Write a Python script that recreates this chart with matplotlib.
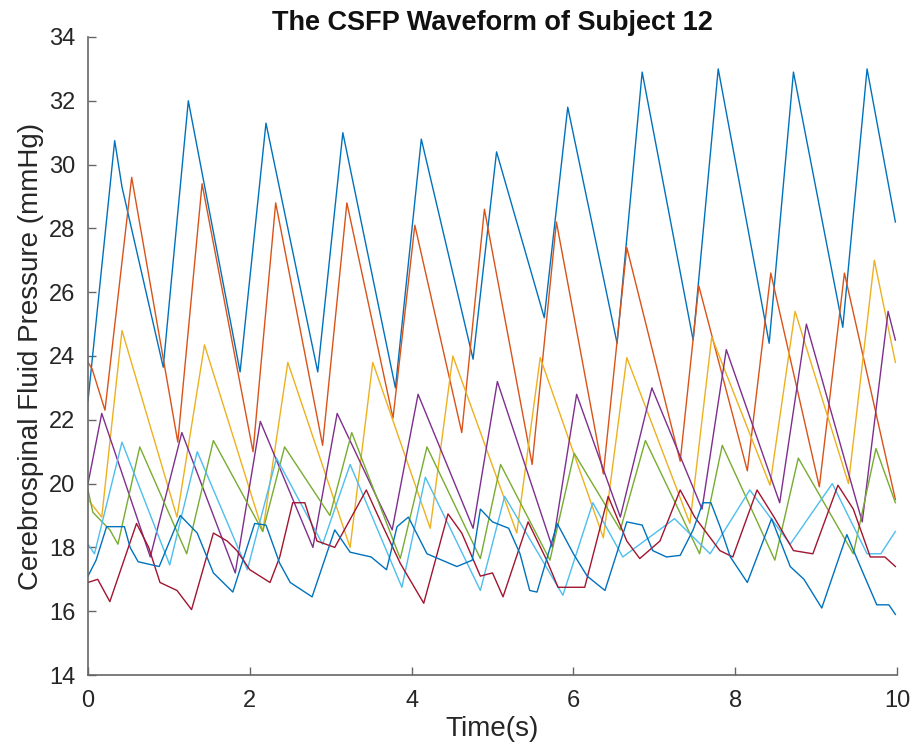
import matplotlib
matplotlib.use("Agg")
import matplotlib.pyplot as plt

plt.rcParams['font.family'] = ['Liberation Sans', 'DejaVu Sans']

title = "The CSFP Waveform of Subject 12"
xlabel = "Time(s)"
ylabel = "Cerebrospinal Fluid Pressure (mmHg)"
xticks = [0, 2, 4, 6, 8, 10]
yticks = [14, 16, 18, 20, 22, 24, 26, 28, 30, 32, 34]

colors = ['#0072BD', '#D95319', '#EDB120', '#7E2F8E', '#77AC30', '#4DBEEE', '#A2142F', '#0072BD']

# series 1 (top blue)
t1 = [0, 0.33, 0.42, 0.93, 1.24, 1.88, 2.2, 2.84, 3.15, 3.8, 4.12, 4.76, 5.05, 5.64, 5.93,
      6.54, 6.85, 7.48, 7.79, 8.42, 8.72, 9.33, 9.63, 9.98]
v1 = [22.6, 30.75, 29.3, 23.65, 32.0, 23.5, 31.3, 23.5, 31.0, 23.0, 30.8, 23.9, 30.4, 25.2, 31.8,
      24.4, 32.9, 24.5, 33.0, 24.4, 32.9, 24.9, 33.0, 28.2]
# series 2 (orange)
t2 = [0, 0.05, 0.21, 0.54, 1.11, 1.41, 2.04, 2.32, 2.9, 3.2, 3.77, 4.04, 4.62, 4.9, 5.49, 5.79,
      6.37, 6.66, 7.32, 7.55, 8.15, 8.44, 9.04, 9.35, 9.98]
v2 = [23.8, 23.6, 22.3, 29.6, 21.3, 29.4, 21.0, 28.8, 21.2, 28.8, 22.05, 28.1, 21.6, 28.6, 20.6, 28.2,
      20.3, 27.4, 20.7, 26.2, 20.4, 26.6, 19.9, 26.6, 19.5]
# series 3 (yellow)
t3 = [0, 0.17, 0.42, 1.1, 1.44, 2.16, 2.47, 3.24, 3.52, 4.23, 4.51, 5.3, 5.59, 6.37, 6.66, 7.44,
      7.71, 8.43, 8.74, 9.4, 9.72, 9.98]
v3 = [19.5, 18.95, 24.8, 18.95, 24.35, 18.5, 23.8, 18.0, 23.8, 18.6, 24.0, 18.45, 23.95, 18.3, 23.95, 18.75,
      24.6, 19.95, 25.4, 20.0, 27.0, 23.8]
# series 4 (purple)
t4 = [0, 0.17, 0.77, 1.16, 1.82, 2.13, 2.78, 3.08, 3.76, 4.08, 4.76, 5.06, 5.74, 6.04, 6.58, 6.97,
      7.59, 7.89, 8.55, 8.88, 9.57, 9.89, 9.98]
v4 = [20.0, 22.2, 17.7, 21.6, 17.2, 21.95, 18.0, 22.2, 18.55, 22.8, 18.6, 23.2, 18.0, 22.8, 18.95, 23.0,
      19.2, 24.2, 19.4, 25.0, 18.8, 25.4, 24.5]
# series 5 (green)
t5 = [0, 0.06, 0.27, 0.37, 0.64, 1.22, 1.55, 2.16, 2.43, 2.99, 3.26, 3.86, 4.19, 4.85, 5.1, 5.71,
      6.01, 6.58, 6.89, 7.56, 7.84, 8.49, 8.78, 9.46, 9.74, 9.98]
v5 = [19.8, 19.1, 18.55, 18.1, 21.15, 17.8, 21.35, 18.5, 21.15, 19.0, 21.6, 17.65, 21.15, 17.65, 20.6, 17.6,
      20.95, 18.55, 21.35, 17.8, 21.2, 17.6, 20.8, 17.8, 21.1, 19.4]
# series 6 (light blue)
t6 = [0, 0.08, 0.42, 1.01, 1.35, 1.97, 2.33, 2.9, 3.24, 3.88, 4.17, 4.85, 5.15, 5.87, 6.24, 6.61,
      7.25, 7.69, 8.18, 8.68, 9.2, 9.63, 9.8, 9.98]
v6 = [18.1, 17.8, 21.3, 17.45, 21.0, 17.3, 20.8, 18.1, 20.6, 16.75, 20.2, 16.65, 19.6, 16.5, 19.4, 17.7,
      18.9, 17.8, 19.8, 18.1, 20.0, 17.8, 17.8, 18.5]
# series 7 (dark red)
t7 = [0, 0.12, 0.27, 0.6, 0.75, 0.89, 1.1, 1.28, 1.55, 1.72, 1.84, 2.0, 2.25, 2.37, 2.53, 2.68,
      2.83, 3.05, 3.44, 3.61, 3.86, 4.15, 4.45, 4.62, 4.85, 5.0, 5.13, 5.44, 5.67, 5.81, 6.14, 6.43,
      6.66, 6.82, 7.07, 7.32, 7.5, 7.81, 7.97, 8.27, 8.48, 8.72, 8.96, 9.27, 9.46, 9.67, 9.85, 9.98]
v7 = [16.9, 17.0, 16.3, 18.75, 18.0, 16.9, 16.65, 16.05, 18.45, 18.2, 17.9, 17.3, 16.9, 17.7, 19.4, 19.4,
      18.2, 18.0, 19.8, 18.85, 17.5, 16.25, 19.05, 18.45, 17.1, 17.2, 16.45, 18.8, 17.6, 16.75, 16.75, 19.6,
      18.2, 17.65, 18.2, 19.8, 18.95, 17.9, 17.7, 19.8, 18.95, 17.9, 17.8, 19.95, 19.2, 17.7, 17.7, 17.4]
# series 8 (lower blue)
t8 = [0, 0.1, 0.23, 0.45, 0.52, 0.62, 0.88, 1.14, 1.35, 1.55, 1.79, 2.06, 2.2, 2.37, 2.5, 2.77,
      3.05, 3.24, 3.5, 3.69, 3.82, 3.96, 4.19, 4.56, 4.75, 4.85, 5.0, 5.2, 5.34, 5.46, 5.55, 5.8,
      6.0, 6.17, 6.39, 6.66, 6.85, 6.98, 7.15, 7.32, 7.48, 7.6, 7.7, 7.82, 7.94, 8.15, 8.45, 8.68,
      8.85, 9.07, 9.38, 9.58, 9.75, 9.9, 9.98]
v8 = [17.1, 17.6, 18.65, 18.65, 18.0, 17.55, 17.4, 19.0, 18.45, 17.2, 16.6, 18.75, 18.7, 17.5, 16.9, 16.45,
      18.55, 17.85, 17.7, 17.3, 18.65, 18.95, 17.8, 17.4, 17.6, 19.2, 18.8, 18.6, 17.8, 16.65, 16.6, 18.75,
      17.8, 17.1, 16.65, 18.8, 18.7, 17.9, 17.7, 17.75, 18.55, 19.4, 19.4, 18.6, 17.7, 16.9, 18.9, 17.4,
      17.0, 16.1, 18.4, 17.2, 16.2, 16.2, 15.9]

series = [(t1, v1), (t2, v2), (t3, v3), (t4, v4), (t5, v5), (t6, v6), (t7, v7), (t8, v8)]

fig = plt.figure(figsize=(9.15, 7.5), dpi=100)
ax = fig.add_axes([88/915, 75/750, 809/915, 638/750])

for (t, v), c in zip(series, colors):
    ax.plot(t, v, color=c, linewidth=1.0)

ax.set_xlim(0, 10)
ax.set_ylim(14, 34)
ax.set_xticks(xticks)
ax.set_yticks(yticks)
for s in ['top', 'right']:
    ax.spines[s].set_visible(False)
for s in ['left', 'bottom']:
    ax.spines[s].set_color('#666666')
    ax.spines[s].set_linewidth(1.2)
ax.tick_params(axis='both', direction='in', length=6, width=1.0, color='#666666', labelsize=17,
               labelcolor='#262626')
ax.tick_params(axis='x', pad=11)
ax.tick_params(axis='y', pad=9)
ax.set_title(title, fontsize=19.5, fontweight='bold', pad=5, color='#111111')
ax.set_xlabel(xlabel, fontsize=20, color='#262626', labelpad=3)
ax.set_ylabel(ylabel, fontsize=20, color='#262626', labelpad=4)

fig.savefig("out.png", dpi=100)
